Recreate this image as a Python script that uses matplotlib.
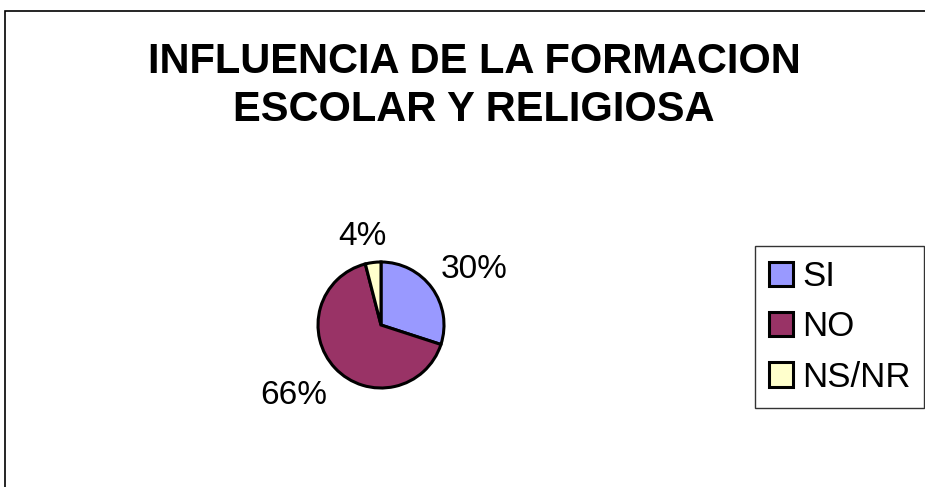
import matplotlib
matplotlib.use('Agg')
import matplotlib.pyplot as plt
from matplotlib.patches import Rectangle

# data
labels = ['SI', 'NO', 'NS/NR']
values = [30, 66, 4]
colors = ['#9999FF', '#993366', '#FFFFCC']

plt.rcParams['font.family'] = ['Liberation Sans', 'DejaVu Sans']

fig = plt.figure(figsize=(9.25, 4.87), dpi=100)

# outer chart frame (right and bottom edges fall outside the image)
fig.patches.append(Rectangle((5 / 925, -0.1), 1.0, 1 - 11 / 487 + 0.1,
                             transform=fig.transFigure, fill=False,
                             edgecolor='black', linewidth=1.2))

fig.text(474 / 925, 1 - 62 / 487, 'INFLUENCIA DE LA FORMACION',
         ha='center', va='center', fontsize=30, fontweight='bold')
fig.text(474 / 925, 1 - 110 / 487, 'ESCOLAR Y RELIGIOSA',
         ha='center', va='center', fontsize=30, fontweight='bold')

# pie axes: center (381, 325), radius ~63 px
r = 63
cx, cy = 381, 325
ax = fig.add_axes([(cx - r) / 925, 1 - (cy + r) / 487, 2 * r / 925, 2 * r / 487])
wedges, _ = ax.pie(values, colors=colors, startangle=90, counterclock=False,
                   wedgeprops=dict(edgecolor='black', linewidth=2.2))
ax.set_aspect('equal')
ax.set_xlim(-1, 1)
ax.set_ylim(-1, 1)

# percentage labels (SI, NO, NS/NR)
label_pos = [(474, 270), (294, 396), (362, 236)]
for v, (x, y) in zip(values, label_pos):
    fig.text(x / 925, 1 - y / 487, f'{v}%', ha='center', va='center', fontsize=24)

leg = fig.legend(wedges, labels, loc='upper left',
                 bbox_to_anchor=(755 / 925, 1 - 246 / 487),
                 fontsize=25, frameon=True, fancybox=False,
                 handlelength=0.7, handleheight=0.7, handletextpad=0.25,
                 labelspacing=0.5, borderpad=0.4, borderaxespad=0)
leg.get_frame().set_edgecolor('black')
leg.get_frame().set_linewidth(1.0)
for h in leg.legend_handles:
    h.set_linewidth(2.2)

fig.savefig('out.png', dpi=100)
